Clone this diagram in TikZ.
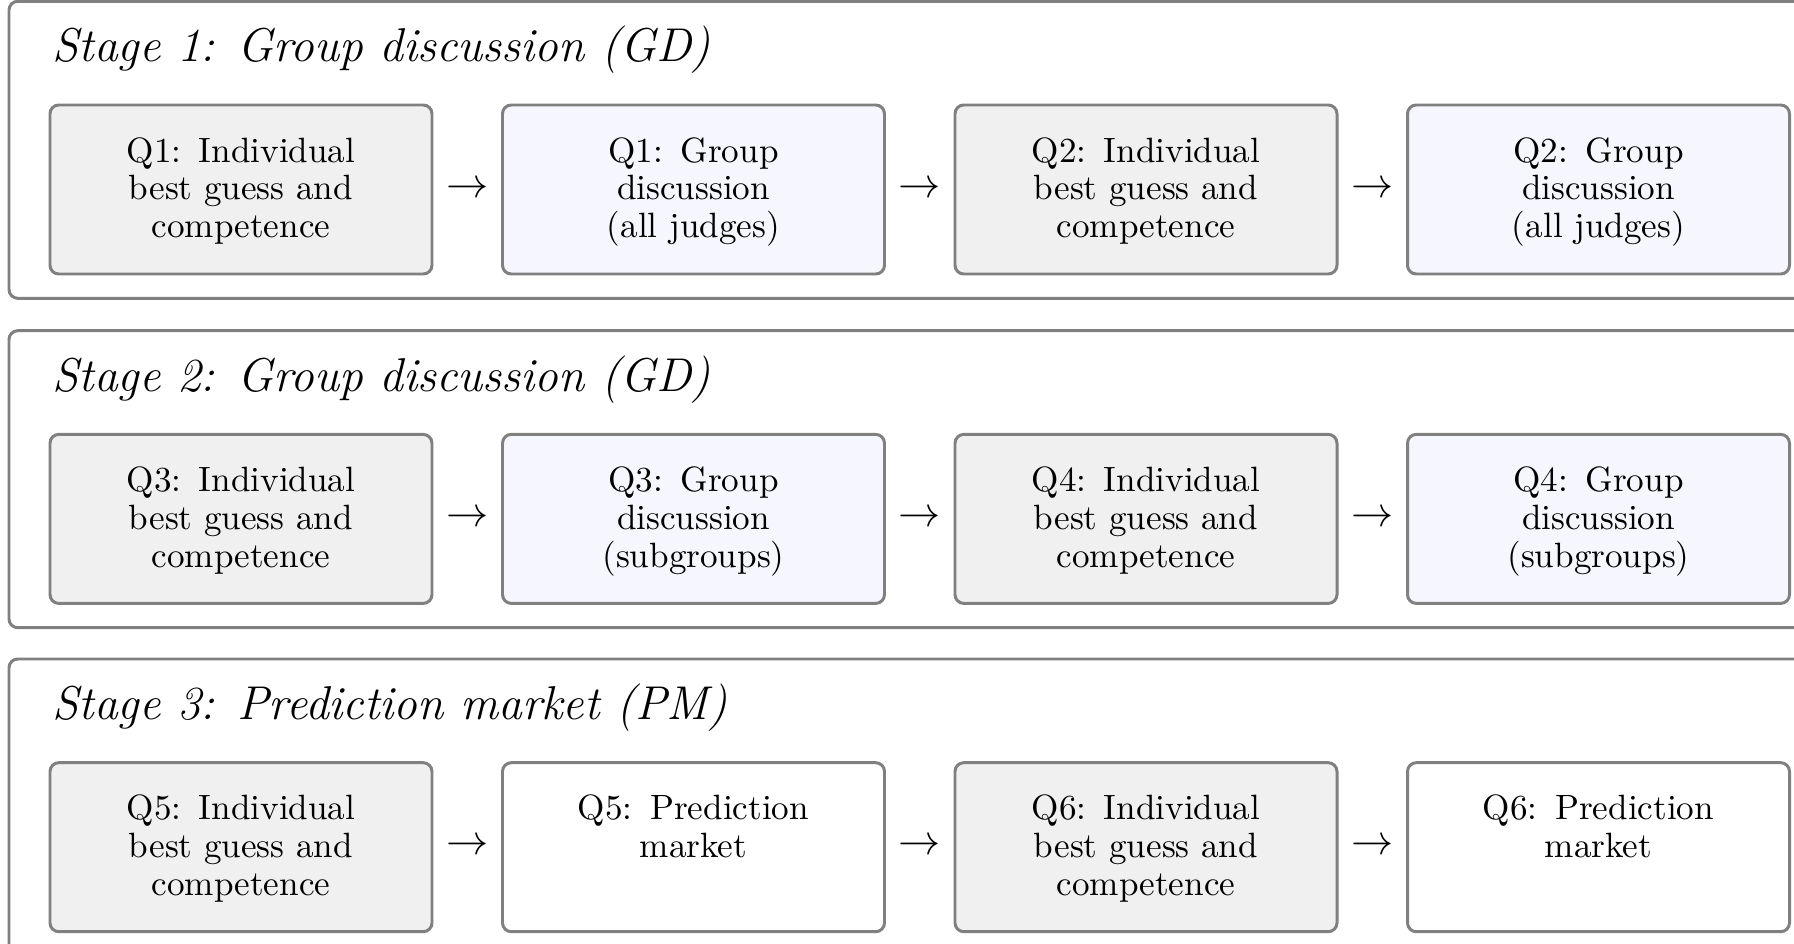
\documentclass[tikz,border=0pt]{standalone}
\usetikzlibrary{positioning}
\definecolor{boxgray}{HTML}{F0F0F0}
\definecolor{boxblue}{HTML}{F5F6FE}
\definecolor{linegray}{HTML}{808080}

\begin{document}
\begin{tikzpicture}[
  stageframe/.style={draw=linegray, line width=0.85pt, rounded corners=2.5pt, minimum width=18.5cm, minimum height=2.97cm, inner sep=0pt, outer sep=0pt, anchor=north west},
  stagetitle/.style={anchor=base west, inner sep=0pt, font=\fontsize{13.5}{16}\selectfont\itshape},
  qbox/.style={draw=linegray, line width=0.85pt, rounded corners=2.5pt, inner sep=0pt, outer sep=0pt, minimum width=3.82cm, text width=3.82cm, align=center, text height=0.57cm, text depth=1.12cm, font=\fontsize{10}{10.8}\selectfont},
  indiv/.style={qbox, fill=boxgray},
  group/.style={qbox, fill=boxblue},
  market/.style={qbox, fill=white},
  flow/.style={inner sep=0pt, font=\fontsize{12}{12}\selectfont}
]
\useasboundingbox (0,0) rectangle (17.94,-9.44);
\clip (0,0) rectangle (17.94,-9.44);

% stage frames
\node[stageframe] (stage1) at (0.09,-0.013) {};
\node[stageframe] (stage2) at (0.09,-3.307) {};
\node[stageframe] (stage3) at (0.09,-6.59) {};

\node[stagetitle] (title1) at ([shift={(0.43,-0.605)}]stage1.north west) {Stage 1: Group discussion (GD)};
\node[stagetitle] (title2) at ([shift={(0.43,-0.605)}]stage2.north west) {Stage 2: Group discussion (GD)};
\node[stagetitle] (title3) at ([shift={(0.43,-0.605)}]stage3.north west) {Stage 3: Prediction market (PM)};

% stage 1
\node[indiv, anchor=north west] (q1ind) at ([shift={(0.41,-1.037)}]stage1.north west) {Q1: Individual\\best guess and\\competence};
\node[group, right=0.705cm of q1ind] (q1grp) {Q1: Group\\discussion\\(all judges)};
\node[indiv, right=0.705cm of q1grp] (q2ind) {Q2: Individual\\best guess and\\competence};
\node[group, right=0.705cm of q2ind] (q2grp) {Q2: Group\\discussion\\(all judges)};

% stage 2
\node[indiv, anchor=north west] (q3ind) at ([shift={(0.41,-1.037)}]stage2.north west) {Q3: Individual\\best guess and\\competence};
\node[group, right=0.705cm of q3ind] (q3grp) {Q3: Group\\discussion\\(subgroups)};
\node[indiv, right=0.705cm of q3grp] (q4ind) {Q4: Individual\\best guess and\\competence};
\node[group, right=0.705cm of q4ind] (q4grp) {Q4: Group\\discussion\\(subgroups)};

% stage 3
\node[indiv, anchor=north west] (q5ind) at ([shift={(0.41,-1.037)}]stage3.north west) {Q5: Individual\\best guess and\\competence};
\node[market, right=0.705cm of q5ind] (q5pm) {Q5: Prediction\\market};
\node[indiv, right=0.705cm of q5pm] (q6ind) {Q6: Individual\\best guess and\\competence};
\node[market, right=0.705cm of q6ind] (q6pm) {Q6: Prediction\\market};

% arrows between the steps
\path (q1ind) -- (q1grp) node[flow, midway] (arr1) {$\rightarrow$};
\path (q1grp) -- (q2ind) node[flow, midway] (arr2) {$\rightarrow$};
\path (q2ind) -- (q2grp) node[flow, midway] (arr3) {$\rightarrow$};
\path (q3ind) -- (q3grp) node[flow, midway] (arr4) {$\rightarrow$};
\path (q3grp) -- (q4ind) node[flow, midway] (arr5) {$\rightarrow$};
\path (q4ind) -- (q4grp) node[flow, midway] (arr6) {$\rightarrow$};
\path (q5ind) -- (q5pm) node[flow, midway] (arr7) {$\rightarrow$};
\path (q5pm) -- (q6ind) node[flow, midway] (arr8) {$\rightarrow$};
\path (q6ind) -- (q6pm) node[flow, midway] (arr9) {$\rightarrow$};
\end{tikzpicture}
\end{document}
